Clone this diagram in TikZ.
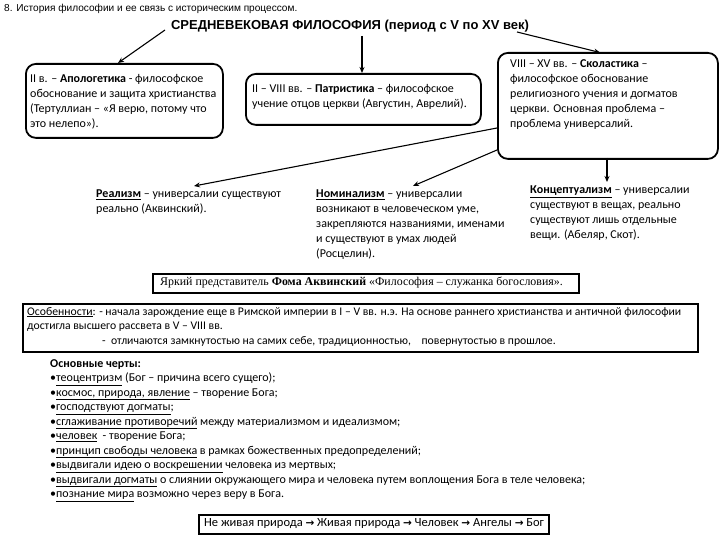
\documentclass[tikz,border=0pt]{standalone}
\usepackage{fontspec}
\setmainfont{Carlito}
\newfontfamily\arialf{Liberation Sans}
\newfontfamily\timesf{Liberation Serif}
\newfontfamily\dejf{DejaVu Sans}
\newcommand\myul[1]{\underline{#1}}
\newcommand\myarr{{\dejf\bfseries\fontsize{10.5}{12}\selectfont →}}
\usetikzlibrary{arrows.meta}
\begin{document}
\begin{tikzpicture}[x=1pt,y=-1pt,
  body/.style={font=\fontsize{12}{15}\selectfont, inner sep=0pt, align=left, anchor=north west},
  rbox/.style={draw, line width=1.8pt, rounded corners=10pt},
  sbox/.style={draw, line width=1.6pt},
  arr/.style={line width=1.1pt, -{Stealth[length=6pt,width=5pt]}}]
\useasboundingbox (0,0) rectangle (720,540);
\fill[white] (0,0) rectangle (720,540);

% title
\node[inner sep=0pt, anchor=west, font=\arialf\fontsize{10.1}{11}\selectfont] (title) at (4,9) {8. История философии и ее связь с историческим процессом.};

% header
\node[inner sep=0pt, font=\arialf\bfseries\fontsize{13}{14}\selectfont] (hdr) at (350,26) {СРЕДНЕВЕКОВАЯ ФИЛОСОФИЯ (период с V по XV век)};

% boxes
\node[rbox, minimum width=197pt, minimum height=74pt, anchor=north west] (lbox) at (25,63) {};
\node[body] (ltxt) at (30,74) {II в. – \textbf{Апологетика} - философское\\обоснование и защита христианства\\(Тертуллиан – «Я верю, потому что\\это нелепо»).};

\node[rbox, minimum width=235pt, minimum height=51pt, anchor=north west] (mbox) at (245,73) {};
\node[body] (mtxt) at (252,84) {II – VIII вв. – \textbf{Патристика} – философское\\учение отцов церкви (Августин, Аврелий).};

\node[rbox, minimum width=220pt, minimum height=106pt, anchor=north west] (rbox) at (497,52) {};
\node[body] (rtxt) at (510,59) {VIII – XV вв. – \textbf{Сколастика} –\\философское обоснование\\религиозного учения и догматов\\церкви. Основная проблема –\\проблема универсалий.};

% header arrows
\coordinate (hl) at (165,30);
\coordinate (hm) at (362,36);
\coordinate (hr) at (517,32);
\coordinate (lt) at (118,63);
\coordinate (rt) at (600,52.5);
\draw[arr] (hl) -- (lt);
\draw[arr] (hm) -- (hm |- mbox.north);
\draw[arr] (hr) -- (rt);

% three doctrines
\node[body] (real) at (96,190) {\myul{\textbf{Реализм}} – универсалии существуют\\реально (Аквинский).};
\node[body] (nom) at (316,190) {\myul{\textbf{Номинализм}} – универсалии\\возникают в человеческом уме,\\закрепляются названиями, именами\\и существуют в умах людей\\(Росцелин).};
\node[body] (conc) at (530,186) {\myul{\textbf{Концептуализм}} – универсалии\\существуют в вещах, реально\\существуют лишь отдельные\\вещи. (Абеляр, Скот).};

\coordinate (r1) at (497,128);
\coordinate (r2) at (497,150);
\coordinate (r3) at (607,158);
\coordinate (e1) at (194,186);
\coordinate (e2) at (413,186);
\coordinate (e3) at (607,182);
\draw[arr] (r1) -- (e1);
\draw[arr] (r2) -- (e2);
\draw[arr] (r3) -- (e3);

% representative
\node[sbox, minimum width=426pt, minimum height=19pt, anchor=north west] (yb) at (152,273) {};
\node[inner sep=0pt, anchor=west, font=\timesf\fontsize{11.9}{13}\selectfont] (yt) at (160,283) {Яркий представитель \textbf{Фома Аквинский} «Философия – служанка богословия».};

% features box
\node[sbox, minimum width=675pt, minimum height=48pt, anchor=north west] (ob) at (22,303) {};
\node[body, font=\fontsize{11.7}{14.5}\selectfont] (ot) at (27,307) {\myul{Особенности}: - начала зарождение еще в Римской империи в I – V вв. н.э. На основе раннего христианства и античной философии\\достигла высшего рассвета в V – VIII вв.\\\hspace*{75pt}- \ отличаются замкнутостью на самих себе, традиционностью, \ \ \ повернутостью в прошлое.};

% main traits
\node[body, font=\fontsize{12}{14.5}\selectfont] (traits) at (50,359) {\textbf{Основные черты:}\\
•\myul{теоцентризм} (Бог – причина всего сущего);\\
•\myul{космос, природа, явление} – творение Бога;\\
•\myul{господствуют догматы};\\
•\myul{сглаживание противоречий} между материализмом и идеализмом;\\
•\myul{человек} \ - творение Бога;\\
•\myul{принцип свободы человека} в рамках божественных предопределений;\\
•\myul{выдвигали идею о воскрешении} человека из мертвых;\\
•\myul{выдвигали догматы} о слиянии окружающего мира и человека путем воплощения Бога в теле человека;\\
•\myul{познание мира} возможно через веру в Бога.};

% bottom box
\node[sbox, minimum width=350pt, minimum height=19pt, anchor=north west] (bb) at (198,514) {};
\node[inner sep=0pt, anchor=west, font=\fontsize{12.5}{13}\selectfont] (bt) at (204,523.5) {Не живая природа \myarr{} Живая природа \myarr{} Человек \myarr{} Ангелы \myarr{} Бог};
\end{tikzpicture}
\end{document}
